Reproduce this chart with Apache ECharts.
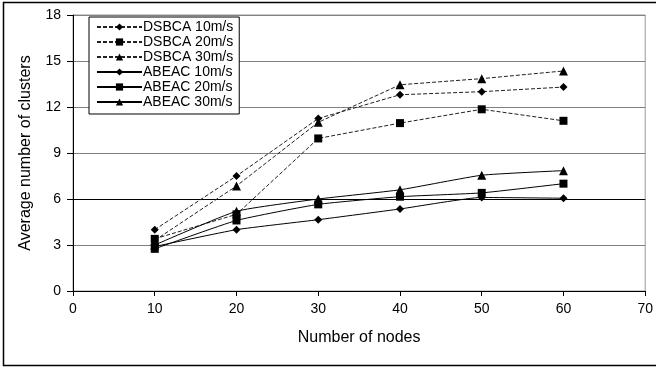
<!DOCTYPE html>
<html>
<head>
<meta charset="utf-8">
<script src="https://cdn.jsdelivr.net/npm/echarts@6/dist/echarts.min.js"></script>
<style>
	html, body { margin: 0; padding: 0; background: #fff; }
	#chart { width: 656px; height: 369px; }
</style>
</head>
<body>
<div id="chart"></div>
<script>
	// number of nodes
	var nodes = [10, 20, 30, 40, 50, 60];
	var seriesNames = ['DSBCA 10m/s', 'DSBCA 20m/s', 'DSBCA 30m/s', 'ABEAC 10m/s', 'ABEAC 20m/s', 'ABEAC 30m/s'];
	var dsbca10 = [4.0, 7.5, 11.25, 12.8, 13.0, 13.3];
	var dsbca20 = [3.4, 5.0, 9.95, 10.95, 11.85, 11.1];
	var dsbca30 = [3.3, 6.85, 11.0, 13.45, 13.85, 14.35];
	var abeac10 = [2.9, 4.0, 4.65, 5.35, 6.1, 6.05];
	var abeac20 = [2.75, 4.6, 5.65, 6.15, 6.4, 7.0];
	var abeac30 = [3.0, 5.2, 6.0, 6.6, 7.55, 7.85];
	var yTicks = [0, 3, 6, 9, 12, 15, 18];

	function pairs(vals){
		return nodes.map(function(n, i){ return [n, vals[i]]; });
	}

	function makeSeries(name, vals, symbol, dashed){
		return {
			name: name,
			type: 'line',
			data: pairs(vals),
			symbol: symbol,
			symbolSize: symbol == 'rect' ? 8 : (symbol == 'triangle' ? 9 : 8),
			smooth: dashed ? false : 0.15,
			lineStyle: { color: dashed ? '#222' : '#000', width: 1, type: dashed ? [4, 2] : 'solid' },
			itemStyle: { color: '#000' },
			emphasis: { disabled: true }
		};
	}

	var chart = echarts.init(document.getElementById('chart'));
	var font = 'Liberation Sans, Arial, sans-serif';
	var series = [
		makeSeries(seriesNames[0], dsbca10, 'diamond', true),
		makeSeries(seriesNames[1], dsbca20, 'rect', true),
		makeSeries(seriesNames[2], dsbca30, 'triangle', true),
		makeSeries(seriesNames[3], abeac10, 'diamond', false),
		makeSeries(seriesNames[4], abeac20, 'rect', false),
		makeSeries(seriesNames[5], abeac30, 'triangle', false)
	];
	// the 6 gridline is drawn darker in the original
	series[3].markLine = {
		silent: true, symbol: 'none', label: { show: false },
		lineStyle: { color: '#000', type: 'solid', width: 1 },
		data: [{ yAxis: 6 }],
		z: 1
	};

	var option = {
		animation: false,
		backgroundColor: '#fff',
		textStyle: { fontFamily: font },
		graphic: [{
			type: 'rect',
			shape: { x: 3.5, y: 2.5, width: 700, height: 363 },
			style: { fill: null, stroke: '#000', lineWidth: 1.5 },
			z: 100
		}],
		grid: {
			left: 73, top: 15, right: 9, bottom: 78,
			show: true, borderColor: '#999', borderWidth: 1
		},
		legend: {
			left: 89, top: 17,
			orient: 'vertical',
			backgroundColor: '#fff',
			borderColor: '#000',
			borderWidth: 1,
			borderRadius: 0,
			padding: [3, 6, 5, 7],
			itemWidth: 45,
			itemHeight: 9,
			itemGap: 1,
			textStyle: { fontFamily: font, fontSize: 14, color: '#000', padding: [0, 0, 0, -4] },
			data: seriesNames
		},
		xAxis: {
			type: 'value',
			min: 0, max: 70, interval: 10,
			name: 'Number of nodes',
			nameLocation: 'middle',
			nameGap: 39,
			nameTextStyle: { fontFamily: font, fontSize: 16, color: '#000' },
			axisLine: { show: true, lineStyle: { color: '#000', width: 1 } },
			axisTick: { show: true, inside: false, length: 5, lineStyle: { color: '#000' } },
			axisLabel: { fontFamily: font, fontSize: 14, color: '#000', margin: 11 },
			splitLine: { show: false }
		},
		yAxis: {
			type: 'value',
			min: yTicks[0], max: yTicks[yTicks.length - 1], interval: 3,
			name: 'Average number of clusters',
			nameLocation: 'middle',
			nameGap: 39,
			nameTextStyle: { fontFamily: font, fontSize: 16, color: '#000' },
			axisLine: { show: true, lineStyle: { color: '#000', width: 1 } },
			axisTick: { show: true, inside: false, length: 6, lineStyle: { color: '#000' } },
			axisLabel: { fontFamily: font, fontSize: 14, color: '#000', margin: 12 },
			splitLine: { show: true, lineStyle: { color: '#808080', width: 1 } }
		},
		series: series
	};
	chart.setOption(option);
</script>
</body>
</html>
